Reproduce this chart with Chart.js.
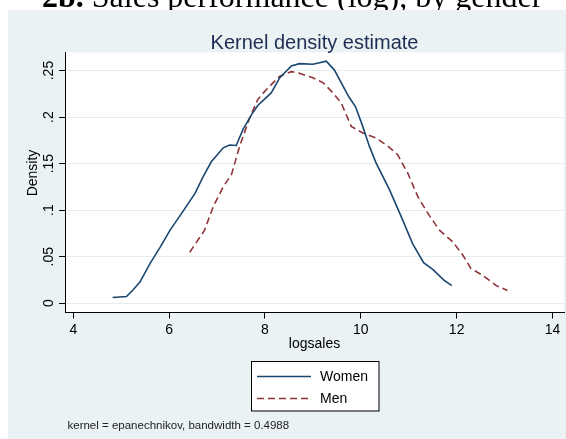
<!DOCTYPE html>
<html>
<head>
<meta charset="utf-8">
<script src="https://cdn.jsdelivr.net/npm/chart.js@4"></script>
<style>
  body { margin: 0; background: #fff; }
  #wrap { width: 566px; height: 439px; position: relative; }
</style>
</head>
<body>
<div id="wrap"><canvas id="kdens"></canvas></div>
<script>
// kernel density of logsales
const womenX = [4.82, 5.11, 5.25, 5.39, 5.60, 5.81, 6.02, 6.26, 6.54, 6.71, 6.88, 7.13, 7.26, 7.40, 7.54, 7.72, 7.85, 8.13, 8.31, 8.55, 8.72, 9.0, 9.28, 9.45, 9.59, 9.75, 9.89, 10.04, 10.18, 10.32, 10.60, 10.875, 11.08, 11.31, 11.50, 11.74, 11.90];
const womenY = [0.0062, 0.0072, 0.0145, 0.0227, 0.0425, 0.060, 0.0785, 0.0965, 0.118, 0.136, 0.152, 0.167, 0.170, 0.1695, 0.1865, 0.2027, 0.2124, 0.226, 0.2423, 0.2549, 0.2574, 0.2567, 0.260, 0.2505, 0.237, 0.2218, 0.211, 0.190, 0.1685, 0.1505, 0.1217, 0.0893, 0.0641, 0.0436, 0.0364, 0.0245, 0.0188];
const menX = [6.43, 6.74, 6.92, 7.13, 7.30, 7.47, 7.68, 7.85, 8.03, 8.31, 8.55, 8.72, 9.0, 9.21, 9.42, 9.59, 9.80, 10.04, 10.32, 10.56, 10.77, 10.98, 11.19, 11.40, 11.64, 11.92, 12.13, 12.30, 12.54, 12.82, 13.06];
const menY = [0.0548, 0.0785, 0.1037, 0.1253, 0.138, 0.1685, 0.199, 0.219, 0.2297, 0.244, 0.2488, 0.247, 0.2423, 0.237, 0.226, 0.2153, 0.190, 0.183, 0.1775, 0.169, 0.1595, 0.1397, 0.1145, 0.0965, 0.0785, 0.0659, 0.0515, 0.0372, 0.030, 0.0191, 0.0137];
const seriesNames = ["Women", "Men"];
const xTicks = [4, 6, 8, 10, 12, 14];
const yTicks = [0, 0.05, 0.1, 0.15, 0.2, 0.25];
const yTickLabels = ["0", ".05", ".1", ".15", ".2", ".25"];

const sans = "'Liberation Sans', Arial, sans-serif";
const bg = "#EAF2F3";

function pts(xs, ys) {
  return xs.map((x, i) => ({ x: x, y: ys[i] }));
}

// background, titles, rotated y labels, legend and note (Stata look)
const stataDecor = {
  id: "stataDecor",
  beforeDraw(chart) {
    const ctx = chart.ctx;
    const a = chart.chartArea;
    ctx.save();
    ctx.fillStyle = "#000";
    ctx.textBaseline = "alphabetic";
    ctx.textAlign = "left";
    ctx.font = "bold 32px 'Liberation Serif', 'Times New Roman', serif";
    ctx.fillText("2b.", 42, 7);
    const w = ctx.measureText("2b.").width;
    ctx.font = "32px 'Liberation Serif', 'Times New Roman', serif";
    ctx.fillText(" Sales performance (log), by gender", 42 + w, 7);
    ctx.fillStyle = bg;
    ctx.fillRect(8, 10, 566 - 8, 439 - 10);
    ctx.fillStyle = "#fff";
    ctx.fillRect(a.left, a.top, a.right - a.left, a.bottom - a.top);
    ctx.restore();
  },
  afterDraw(chart) {
    const ctx = chart.ctx;
    const a = chart.chartArea;
    const ys = chart.scales.y;
    const mid = (a.left + a.right) / 2;
    ctx.save();
    // title
    ctx.fillStyle = "#1E2D53";
    ctx.font = "20px " + sans;
    ctx.textAlign = "center";
    ctx.textBaseline = "alphabetic";
    ctx.fillText("Kernel density estimate", mid, 48.5);
    // y tick labels, rotated
    ctx.fillStyle = "#000";
    ctx.font = "14px " + sans;
    yTicks.forEach((v, i) => {
      const py = ys.getPixelForValue(v);
      ctx.save();
      ctx.translate(53, py);
      ctx.rotate(-Math.PI / 2);
      ctx.textAlign = "center";
      ctx.fillText(yTickLabels[i], 0, 0);
      ctx.restore();
    });
    // y title
    ctx.save();
    ctx.translate(37, 173);
    ctx.rotate(-Math.PI / 2);
    ctx.textAlign = "center";
    ctx.fillText("Density", 0, 0);
    ctx.restore();
    // x title
    ctx.textAlign = "center";
    ctx.fillText("logsales", mid, 347.5);
    // legend
    const lx = 251.5, ly = 361.5, lw = 127.5, lh = 49.5;
    ctx.fillStyle = "#fff";
    ctx.fillRect(lx, ly, lw, lh);
    ctx.strokeStyle = "#000";
    ctx.lineWidth = 1;
    ctx.strokeRect(lx, ly, lw, lh);
    const rows = [376.5, 398.5];
    chart.data.datasets.forEach((ds, i) => {
      ctx.strokeStyle = ds.borderColor;
      ctx.lineWidth = ds.borderWidth;
      ctx.setLineDash(ds.borderDash || []);
      ctx.beginPath();
      ctx.moveTo(257, rows[i]);
      ctx.lineTo(311, rows[i]);
      ctx.stroke();
      ctx.setLineDash([]);
      ctx.fillStyle = "#000";
      ctx.textAlign = "left";
      ctx.textBaseline = "middle";
      ctx.fillText(ds.label, 320, rows[i] + 1);
    });
    // note
    ctx.font = "11.5px " + sans;
    ctx.textBaseline = "alphabetic";
    ctx.fillStyle = "#222";
    ctx.fillText("kernel = epanechnikov, bandwidth = 0.4988", 67.5, 429);
    ctx.restore();
  }
};

new Chart(document.getElementById("kdens"), {
  type: "scatter",
  data: {
    datasets: [
      {
        label: seriesNames[0],
        data: pts(womenX, womenY),
        showLine: true,
        borderColor: "#1A476F",
        borderWidth: 1.6,
        pointRadius: 0,
        tension: 0
      },
      {
        label: seriesNames[1],
        data: pts(menX, menY),
        showLine: true,
        borderColor: "#90353B",
        borderWidth: 1.6,
        borderDash: [7, 4],
        pointRadius: 0,
        tension: 0
      }
    ]
  },
  options: {
    responsive: true,
    maintainAspectRatio: false,
    animation: false,
    layout: { padding: { top: 52.5, right: 2, left: 0, bottom: 0 } },
    plugins: {
      legend: { display: false },
      tooltip: { enabled: false }
    },
    scales: {
      x: {
        type: "linear",
        min: 3.827,
        max: 14.24,
        afterBuildTicks: (s) => { s.ticks = xTicks.map(v => ({ value: v })); },
        afterFit: (s) => { s.height = 126.5; },
        border: { color: "#000", width: 1 },
        grid: { drawOnChartArea: false, drawTicks: true, tickLength: 6, tickColor: "#000" },
        ticks: { color: "#000", font: { family: sans, size: 14 }, padding: 3, maxRotation: 0 }
      },
      y: {
        min: -0.01,
        max: 0.2694,
        afterBuildTicks: (s) => { s.ticks = yTicks.map(v => ({ value: v })); },
        afterFit: (s) => { s.width = 65; },
        border: { color: "#000", width: 1 },
        grid: { color: "#E4EDF0", lineWidth: 1, drawTicks: true, tickLength: 6, tickColor: "#000" },
        ticks: { color: "rgba(0,0,0,0)", font: { family: sans, size: 14 } }
      }
    }
  },
  plugins: [stataDecor]
});
</script>
</body>
</html>
